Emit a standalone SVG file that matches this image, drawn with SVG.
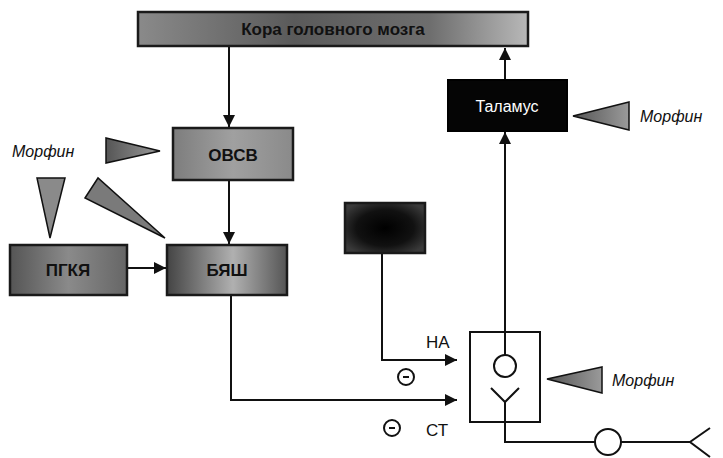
<svg xmlns="http://www.w3.org/2000/svg" width="723" height="458" viewBox="0 0 723 458">
<defs>
<style>
.ln{stroke:#111;stroke-width:2;fill:none}
.box{stroke:#1a1a1a;stroke-width:2.5}
.lbl{font-family:"Liberation Sans",Arial,sans-serif;font-weight:bold;font-size:17px;fill:#111;text-anchor:middle}
.m{font-family:"Liberation Sans",Arial,sans-serif;font-style:italic;font-size:16px;fill:#111}
.t{font-family:"Liberation Sans",Arial,sans-serif;font-size:17px;fill:#111}
.tri{stroke:#111;stroke-width:1.5}
</style>
<marker id="ah" viewBox="0 0 10 10" refX="10" refY="5" markerWidth="6" markerHeight="6" orient="auto" markerUnits="strokeWidth">
<path d="M0,0 L10,5 L0,10 z" fill="#111"/>
</marker>
<linearGradient id="gTop" x1="0" y1="0" x2="1" y2="0">
<stop offset="0" stop-color="#8a8a8a"/>
<stop offset="0.4" stop-color="#5a5a5a"/>
<stop offset="0.75" stop-color="#6e6e6e"/>
<stop offset="1" stop-color="#b8b8b8"/>
</linearGradient>
<linearGradient id="gGray" x1="0" y1="0" x2="1" y2="0">
<stop offset="0" stop-color="#7d7d7d"/>
<stop offset="0.5" stop-color="#a0a0a0"/>
<stop offset="1" stop-color="#8a8a8a"/>
</linearGradient>
<linearGradient id="gDark" x1="0" y1="0" x2="1" y2="0">
<stop offset="0" stop-color="#555"/>
<stop offset="0.5" stop-color="#8a8a8a"/>
<stop offset="1" stop-color="#666"/>
</linearGradient>
<linearGradient id="gBya" x1="0" y1="0" x2="1" y2="0">
<stop offset="0" stop-color="#444"/>
<stop offset="0.55" stop-color="#b0b0b0"/>
<stop offset="1" stop-color="#555"/>
</linearGradient>
<radialGradient id="gBlack" cx="0.5" cy="0.5" r="0.6">
<stop offset="0" stop-color="#000"/>
<stop offset="0.6" stop-color="#111"/>
<stop offset="1" stop-color="#3a3a3a"/>
</radialGradient>
<linearGradient id="gTri" x1="0" y1="0" x2="1" y2="0">
<stop offset="0" stop-color="#555"/>
<stop offset="1" stop-color="#9a9a9a"/>
</linearGradient>
</defs>

<g id="connectors">
<line class="ln" x1="229" y1="47" x2="229" y2="127" marker-end="url(#ah)"/>
<line class="ln" x1="229" y1="181" x2="229" y2="244" marker-end="url(#ah)"/>
<line class="ln" x1="128" y1="268" x2="166" y2="268" marker-end="url(#ah)"/>
<polyline class="ln" points="231,296 231,400 457,400" marker-end="url(#ah)"/>
<polyline class="ln" points="382,254 382,360 457,360" marker-end="url(#ah)"/>
<line class="ln" x1="505" y1="332" x2="505" y2="132" marker-end="url(#ah)"/>
<line class="ln" x1="505" y1="79" x2="505" y2="48" marker-end="url(#ah)"/>
</g>

<g id="cortex">
<rect class="box" x="138" y="12" width="390" height="34" fill="url(#gTop)"/>
<text class="lbl" x="333" y="35" font-size="15">Кора головного мозга</text>
</g>

<g id="ovsv">
<rect class="box" x="173" y="128" width="120" height="52" fill="url(#gGray)"/>
<text class="lbl" x="233" y="161">ОВСВ</text>
</g>

<g id="pgkya">
<rect class="box" x="10" y="245" width="117" height="50" fill="url(#gDark)"/>
<text class="lbl" x="68" y="276">ПГКЯ</text>
</g>

<g id="byash">
<rect class="box" x="167" y="245" width="120" height="50" fill="url(#gBya)"/>
<text class="lbl" x="227" y="276">БЯШ</text>
</g>

<g id="blackbox">
<rect class="box" x="345" y="203" width="80" height="50" fill="url(#gBlack)"/>
</g>

<g id="thalamus">
<rect x="448" y="80" width="119" height="51" fill="#050505" stroke="#000" stroke-width="2"/>
<text x="507" y="112" font-family="Liberation Sans, Arial, sans-serif" font-size="16" fill="#fff" text-anchor="middle">Таламус</text>
</g>

<g id="morphine-left">
<text class="m" x="12" y="157">Морфин</text>
<polygon class="tri" points="106,138 106,163 160,151" fill="url(#gTri)"/>
<polygon class="tri" points="37,178 65,178 50,238" fill="#8a8a8a"/>
<polygon class="tri" points="85,198 98,178 165,238" fill="#7a7a7a"/>
</g>

<g id="morphine-thalamus">
<polygon class="tri" points="573,116 629,102 629,130" fill="url(#gTri)"/>
<text class="m" x="640" y="122">Морфин</text>
</g>

<g id="receptor">
<rect x="470" y="332" width="70" height="90" fill="none" stroke="#111" stroke-width="2"/>
<line class="ln" x1="505" y1="332" x2="505" y2="355"/>
<circle cx="505" cy="366" r="11" fill="#fff" stroke="#111" stroke-width="2"/>
<polyline class="ln" points="491,388 505,402 519,388"/>
<polyline class="ln" points="505,402 505,442 595,442"/>
<circle cx="608" cy="442" r="13" fill="#fff" stroke="#111" stroke-width="2"/>
<line class="ln" x1="621" y1="442" x2="690" y2="442"/>
<polyline class="ln" points="710,428 690,442 710,457"/>
</g>

<g id="morphine-receptor">
<polygon class="tri" points="547,379 602,367 602,393" fill="url(#gTri)"/>
<text class="m" x="612" y="386">Морфин</text>
</g>

<g id="labels">
<text class="t" x="426" y="348">НА</text>
<circle cx="406" cy="377" r="8" fill="none" stroke="#111" stroke-width="2"/>
<line x1="403" y1="377" x2="409" y2="377" stroke="#111" stroke-width="2"/>
<text class="t" x="426" y="436">СТ</text>
<circle cx="392" cy="428" r="8" fill="none" stroke="#111" stroke-width="2"/>
<line x1="389" y1="428" x2="395" y2="428" stroke="#111" stroke-width="2"/>
</g>
</svg>
